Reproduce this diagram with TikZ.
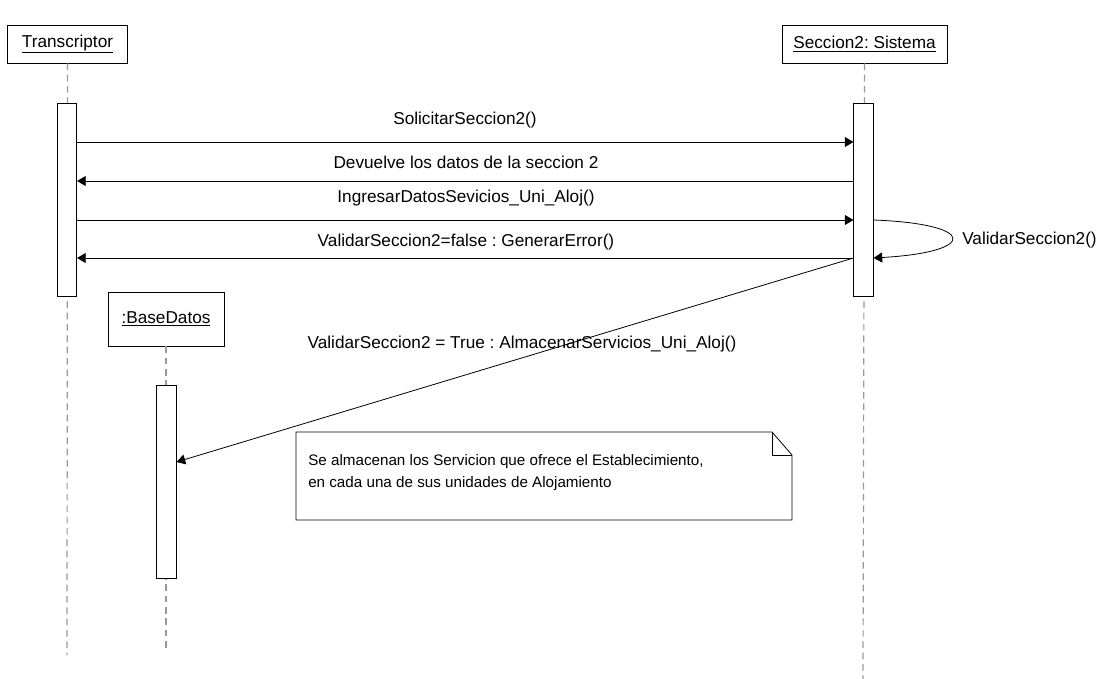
\documentclass[tikz,border=0pt]{standalone}
\usepackage{fontspec}
\setmainfont{Liberation Sans}
\usetikzlibrary{arrows.meta}
\begin{document}
\frenchspacing
\begin{tikzpicture}[x=0.75pt,y=-0.75pt,
  font=\fontsize{12.9pt}{15pt}\selectfont,
  head/.style={draw,fill=white,line width=0.6pt,inner sep=0pt},
  act/.style={draw,fill=white,line width=0.6pt,inner sep=0pt,minimum width=14.5pt},
  life/.style={draw=gray!80,line width=0.9pt,dash pattern=on 5pt off 3.5pt},
  msg/.style={line width=0.6pt,-{Triangle[length=6.5pt,width=7.5pt]}},
  lbl/.style={inner sep=0pt}]
\useasboundingbox (0,0) rectangle (1101,679);
% heads
\node[head,minimum width=90pt,minimum height=28.5pt] (t) at (67.5,44) {\underline{Transcriptor}};
\node[head,minimum width=123.75pt,minimum height=28.5pt] (s) at (864.5,44) {\underline{Seccion2: Sistema}};
\node[head,minimum width=87pt,minimum height=40.5pt] (b) at (166,319) {\underline{:BaseDatos}};
% lifeline ends
\coordinate (tend) at (67,655);
\coordinate (send) at (863,679);
\coordinate (bend) at (166,651);
\draw[life] (t.south) -- (tend);
\draw[life] (s.south) -- (send);
\draw[life] (b.south) -- (bend);
% activations
\node[act,minimum height=144.75pt] (a1) at (67,199.5) {};
\node[act,minimum height=144.75pt] (a2) at (863.5,199.5) {};
\node[act,minimum height=144.75pt] (a3) at (166.5,481.5) {};
% message levels
\coordinate (m1) at (0,142);
\coordinate (m2) at (0,181);
\coordinate (m3) at (0,220);
\coordinate (m4) at (0,258);
\coordinate (m5) at (0,462);
\draw[msg] (a1.east |- m1) -- (a2.west |- m1);
\draw[msg] (a2.west |- m2) -- (a1.east |- m2);
\draw[msg] (a1.east |- m3) -- (a2.west |- m3);
\draw[msg] (a2.west |- m4) -- (a1.east |- m4);
\draw[msg] (a2.east |- m3) .. controls (978,224) and (978,252) .. (a2.east |- m4);
\draw[msg] (a2.west |- m4) -- (a3.east |- m5);
% labels
\node[lbl] (l1) at (465,120) {SolicitarSeccion2()};
\node[lbl] (l2) at (466,162) {Devuelve los datos de la seccion 2};
\node[lbl] (l3) at (466,198) {IngresarDatosSevicios\_Uni\_Aloj()};
\node[lbl] (l4) at (466,242) {ValidarSeccion2=false : GenerarError()};
\node[lbl,anchor=west] (l5) at (962,240) {ValidarSeccion2()};
\node[lbl] (l6) at (522,344) {ValidarSeccion2 = True : AlmacenarServicios\_Uni\_Aloj()};
% note
\draw[line width=0.6pt,fill=white] (296,432) -- (772,432) -- (792,455) -- (792,520) -- (296,520) -- cycle;
\draw[line width=0.6pt] (772,432) -- (772,455) -- (792,455);
\node[lbl,anchor=north west,align=left,font=\fontsize{11.4pt}{17pt}\selectfont] (note) at (308,454) {Se almacenan los Servicion que ofrece el Establecimiento,\\en cada una de sus unidades de Alojamiento};
\end{tikzpicture}
\end{document}
